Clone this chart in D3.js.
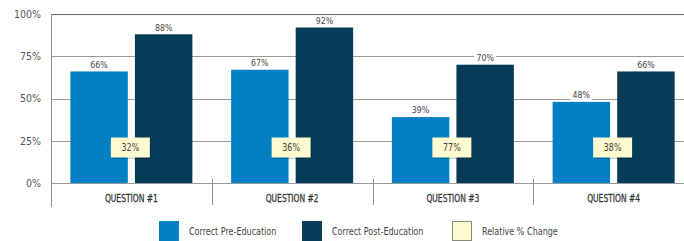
<!DOCTYPE html>
<html>
<head>
<meta charset="utf-8">
<script src="https://cdn.jsdelivr.net/npm/d3@7"></script>
<style>
  body { margin: 0; background: #fff; }
  svg { display: block; font-family: "DejaVu Sans Condensed", "Liberation Sans Narrow", sans-serif; }
</style>
</head>
<body>
<svg id="chart"></svg>
<script>
var questions = ["QUESTION #1", "QUESTION #2", "QUESTION #3", "QUESTION #4"]
var preEducation = [66, 67, 39, 48]
var postEducation = [88, 92, 70, 66]
var relativeChange = [32, 36, 77, 38]
var yTicks = [0, 25, 50, 75, 100]
var legendLabels = ["Correct Pre-Education", "Correct Post-Education", "Relative % Change"]

var colors = { pre: "#0280c6", post: "#063c57", change: "#fef9cf" }

var dimensions = {
    width: 684,
    height: 241,
    margin: { top: 14, bottom: 58, left: 51, right: -10 }
}

var svg = d3.select("#chart")
    .attr("width", dimensions.width)
    .attr("height", dimensions.height)

var xScale = d3.scaleBand()
    .domain(questions)
    .range([dimensions.margin.left, dimensions.width - dimensions.margin.right])

var inner = d3.scaleBand()
    .domain(["pre", "post"])
    .range([0, xScale.bandwidth()])
    .paddingInner(0.11)
    .paddingOuter(0.3)

var yScale = d3.scaleLinear()
    .domain([0, 100])
    .range([dimensions.height - dimensions.margin.bottom, dimensions.margin.top])

var base = yScale(0)

// gridlines (top one a bit darker)
svg.append("g")
    .selectAll("line")
    .data(yTicks)
    .enter()
    .append("line")
    .attr("x1", dimensions.margin.left)
    .attr("x2", dimensions.width)
    .attr("y1", d => Math.round(yScale(d)) + 0.5)
    .attr("y2", d => Math.round(yScale(d)) + 0.5)
    .attr("stroke", d => d == 100 ? "#666" : "#999")
    .attr("stroke-width", 1)

// y axis labels
var yAxisGen = d3.axisLeft(yScale).tickValues(yTicks).tickFormat(d => d + "%").tickSize(0).tickPadding(10)
var yAxis = svg.append("g")
    .attr("transform", "translate(" + dimensions.margin.left + ",0)")
    .call(yAxisGen)
yAxis.select(".domain").remove()
yAxis.selectAll("text")
    .attr("font-family", "'DejaVu Sans Condensed', sans-serif")
    .attr("font-size", 10.5)
    .attr("fill", "#555")

// left axis line
svg.append("line")
    .attr("x1", dimensions.margin.left + 0.5)
    .attr("x2", dimensions.margin.left + 0.5)
    .attr("y1", dimensions.margin.top)
    .attr("y2", base + 24)
    .attr("stroke", "#8c8c8c")

// category separators
svg.append("g")
    .selectAll("line")
    .data(questions.slice(1))
    .enter()
    .append("line")
    .attr("x1", d => Math.round(xScale(d)) + 0.5)
    .attr("x2", d => Math.round(xScale(d)) + 0.5)
    .attr("y1", base - 4)
    .attr("y2", base + 22)
    .attr("stroke", "#8c8c8c")

var groups = svg.append("g")
    .selectAll("g")
    .data(questions)
    .enter()
    .append("g")
    .attr("transform", d => "translate(" + xScale(d) + ",0)")

var series = [
    { key: "pre", values: preEducation },
    { key: "post", values: postEducation }
]

series.forEach(s => {
    groups.append("rect")
        .attr("x", inner(s.key))
        .attr("width", inner.bandwidth())
        .attr("y", (d, i) => yScale(s.values[i]))
        .attr("height", (d, i) => base - yScale(s.values[i]))
        .attr("fill", colors[s.key])

    var lab = groups.append("g")
        .attr("transform", (d, i) => "translate(" + (inner(s.key) + inner.bandwidth() / 2) + "," + (yScale(s.values[i]) - 7) + ")")
    lab.append("rect")
        .attr("x", -11)
        .attr("y", -5)
        .attr("width", 22)
        .attr("height", 10)
        .attr("fill", "#fff")
    lab.append("text")
        .attr("text-anchor", "middle")
        .attr("dy", "0.35em")
        .attr("font-size", 9.5)
        .attr("fill", "#444")
        .attr("transform", "scale(0.92,1)")
        .text((d, i) => s.values[i] + "%")
})

// relative change boxes
var boxes = groups.append("g")
    .attr("transform", "translate(" + (xScale.bandwidth() / 2 - 1) + "," + yScale(21) + ")")
boxes.append("rect")
    .attr("x", -18.5)
    .attr("y", -8.5)
    .attr("width", 39)
    .attr("height", 20)
    .attr("fill", "#000")
    .attr("opacity", 0.18)
boxes.append("rect")
    .attr("x", -19.5)
    .attr("y", -10)
    .attr("width", 39)
    .attr("height", 20)
    .attr("fill", colors.change)
boxes.append("text")
    .attr("text-anchor", "middle")
    .attr("dy", "0.35em")
    .attr("font-size", 10)
    .attr("fill", "#444")
    .attr("transform", "scale(0.88,1)")
    .text((d, i) => relativeChange[i] + "%")

// category labels
groups.append("text")
    .attr("transform", "translate(" + (xScale.bandwidth() / 2) + "," + (base + 18.5) + ") scale(0.8,1)")
    .attr("text-anchor", "middle")
    .attr("font-size", 10.5)
    .attr("fill", "#333")
    .attr("stroke", "#333")
    .attr("stroke-width", 0.25)
    .text(d => d)

// legend
var legendX = [159, 302, 452]
var legendColors = [colors.pre, colors.post, colors.change]
var legend = svg.append("g")
    .selectAll("g")
    .data(legendLabels)
    .enter()
    .append("g")
    .attr("transform", (d, i) => "translate(" + legendX[i] + ",221)")
legend.append("rect")
    .attr("x", (d, i) => i == 2 ? 0.5 : 0)
    .attr("y", (d, i) => i == 2 ? 0.5 : 0)
    .attr("width", (d, i) => i == 2 ? 19 : 20)
    .attr("height", (d, i) => i == 2 ? 19 : 20)
    .attr("fill", (d, i) => legendColors[i])
    .attr("stroke", (d, i) => i == 2 ? "#8a8a7a" : "none")
legend.append("text")
    .attr("transform", "translate(30,10) scale(0.85,1)")
    .attr("dy", "0.35em")
    .attr("font-size", 10.5)
    .attr("fill", "#444")
    .text(d => d)
</script>
</body>
</html>
